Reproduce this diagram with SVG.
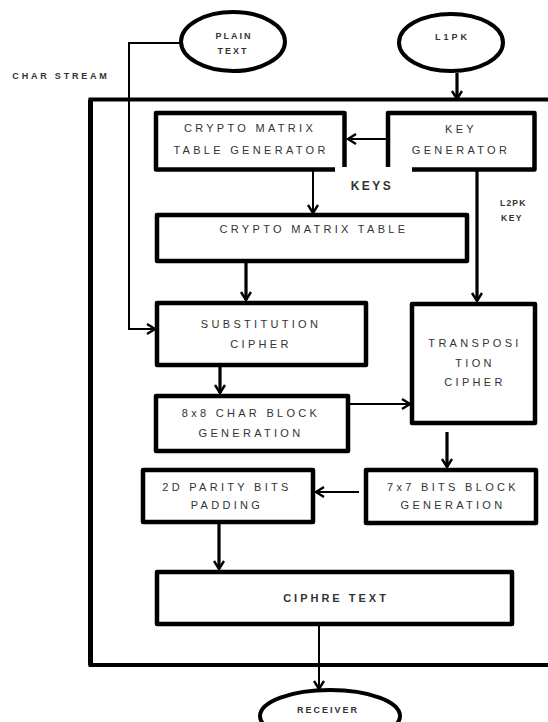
<svg xmlns="http://www.w3.org/2000/svg" width="548" height="722" viewBox="0 0 548 722">
<style>
.box{fill:none;stroke:#000;stroke-width:4.5;stroke-linejoin:round}
.ell{fill:#fff;stroke:#000;stroke-width:4}
.c{fill:none;stroke:#000;stroke-width:2}
.ct{fill:none;stroke:#000;stroke-width:3.2}
.t{font-family:"Liberation Sans",Arial,sans-serif;font-size:11px;letter-spacing:3.3px;fill:#333;text-anchor:middle}
.s{font-family:"Liberation Sans",Arial,sans-serif;font-size:9px;font-weight:bold;letter-spacing:2px;fill:#333;text-anchor:middle}
</style>
<defs>
<marker id="a" markerUnits="userSpaceOnUse" markerWidth="14" markerHeight="14" refX="10" refY="6" orient="auto">
<path d="M2,1 L10,6 L2,11" fill="none" stroke="#000" stroke-width="2.4"/>
</marker>
</defs>
<rect width="548" height="722" fill="#fff"/>
<g id="outer"><path d="M600,99.5 H90.5 V665 H600" fill="none" stroke="#000" stroke-width="4"/>
<path d="M90.5,99.5 V665" fill="none" stroke="#000" stroke-width="5"/></g>
<g id="connectors">
<path class="c" d="M180,43 H129 V329 H155" marker-end="url(#a)"/>
<path class="ct" d="M457,73 V99" marker-end="url(#a)"/>
<path class="c" d="M387,139 H348" marker-end="url(#a)"/>
<path class="c" d="M313,170 V213" marker-end="url(#a)"/>
<path class="ct" d="M477,170 V301" marker-end="url(#a)"/>
<path class="ct" d="M246,262 V300" marker-end="url(#a)"/>
<path class="ct" d="M220,367 V393" marker-end="url(#a)"/>
<path class="c" d="M350,404 H410" marker-end="url(#a)"/>
<path class="ct" d="M447,432 V467" marker-end="url(#a)"/>
<path class="c" d="M359,492 H316" marker-end="url(#a)"/>
<path class="ct" d="M219,524 V569" marker-end="url(#a)"/>
<path class="c" d="M319,626 V689" marker-end="url(#a)"/>
</g>
<g id="plaintext"><ellipse class="ell" cx="233" cy="41.5" rx="52" ry="29.5"/>
<text class="s" x="234" y="38.5">PLAIN</text><text class="s" x="233" y="53.5">TEXT</text></g>
<g id="l1pk"><ellipse class="ell" cx="451" cy="42.5" rx="52" ry="28.5"/>
<text class="s" style="letter-spacing:3px" x="452.5" y="39.5">L1PK</text></g>
<g id="charstream"><text class="s" style="letter-spacing:2.8px" x="61" y="78.5">CHAR STREAM</text></g>
<g id="cmtg"><path class="box" d="M335,169.5 H156 V113 H344.5 V167"/>
<text class="t" x="250" y="132">CRYPTO MATRIX</text><text class="t" x="251" y="154">TABLE GENERATOR</text></g>
<g id="keygen"><path class="box" d="M388,167 V113 H534.5 V169.5 H412"/>
<text class="t" x="461" y="133">KEY</text><text class="t" x="461" y="154">GENERATOR</text></g>
<g id="keys"><text class="s" style="font-size:12px;letter-spacing:2.5px" x="372" y="190">KEYS</text></g>
<g id="l2pk"><text class="s" style="font-size:8.5px;letter-spacing:1.2px;text-anchor:start" x="500" y="206">L2PK</text>
<text class="s" style="font-size:8.5px;letter-spacing:1.5px;text-anchor:start" x="501" y="221">KEY</text></g>
<g id="cmt"><rect class="box" x="157" y="215" width="310" height="46"/>
<text class="t" x="314" y="233">CRYPTO MATRIX TABLE</text></g>
<g id="subst"><rect class="box" x="157" y="303" width="209" height="62"/>
<text class="t" x="261" y="328">SUBSTITUTION</text><text class="t" x="261" y="348">CIPHER</text></g>
<g id="transp"><rect class="box" x="412" y="304" width="123" height="119"/>
<text class="t" x="475" y="347">TRANSPOSI</text><text class="t" x="475" y="367">TION</text><text class="t" x="475" y="386">CIPHER</text></g>
<g id="char8"><rect class="box" x="156" y="396" width="192" height="55"/>
<text class="t" x="251" y="417">8x8 CHAR BLOCK</text><text class="t" x="251" y="437">GENERATION</text></g>
<g id="bits7"><rect class="box" x="366" y="470" width="170" height="53"/>
<text class="t" x="453" y="491">7x7 BITS BLOCK</text><text class="t" x="453" y="509">GENERATION</text></g>
<g id="parity"><rect class="box" x="143" y="470" width="170" height="52"/>
<text class="t" x="227" y="491">2D PARITY BITS</text><text class="t" x="227" y="509">PADDING</text></g>
<g id="ciphre"><rect class="box" x="157" y="572" width="355" height="52"/>
<text class="t" style="font-weight:bold;letter-spacing:3px" x="336" y="602">CIPHRE TEXT</text></g>
<g id="receiver"><ellipse class="ell" cx="330" cy="716" rx="70" ry="26"/>
<text class="s" x="328" y="712.5">RECEIVER</text></g>
</svg>
